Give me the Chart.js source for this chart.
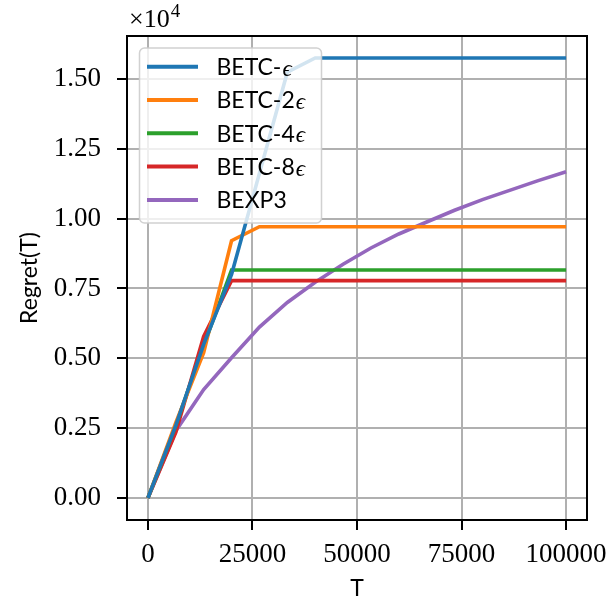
<!DOCTYPE html>
<html>
<head>
<meta charset="utf-8">
<script src="https://cdn.jsdelivr.net/npm/chart.js@4"></script>
<style>
html, body { margin: 0; padding: 0; background: #fff; }
#wrap { width: 611px; height: 603px; }
</style>
</head>
<body>
<div id="wrap"><canvas id="regret"></canvas></div>
<script>
// horizon values (T) and regret curves (raw units, axis shows x1e4)
const T = [0, 6667, 13333, 20000, 26667, 33333, 40000, 46667, 53333, 60000, 66667, 73333, 80000, 86667, 93333, 100000];
const betc1 = [0, 2600, 5500, 8000, 11620, 15240, 15750, 15750, 15750, 15750, 15750, 15750, 15750, 15750, 15750, 15750];
const betc2 = [0, 2700, 5200, 9210, 9710, 9710, 9710, 9710, 9710, 9710, 9710, 9710, 9710, 9710, 9710, 9710];
const betc4 = [0, 2600, 5450, 8160, 8160, 8160, 8160, 8160, 8160, 8160, 8160, 8160, 8160, 8160, 8160, 8160];
const betc8 = [0, 2350, 5780, 7780, 7780, 7780, 7780, 7780, 7780, 7780, 7780, 7780, 7780, 7780, 7780, 7780];
const bexp3 = [0, 2400, 3880, 5020, 6120, 7000, 7720, 8370, 8950, 9450, 9880, 10300, 10680, 11020, 11360, 11680];

const seriesNames = ['BETC-ϵ', 'BETC-2ϵ', 'BETC-4ϵ', 'BETC-8ϵ', 'BEXP3'];
const seriesColors = ['#1f77b4', '#ff7f0e', '#2ca02c', '#d62728', '#9467bd'];
const xTicks = [0, 25000, 50000, 75000, 100000];
const yTicks = [0, 2500, 5000, 7500, 10000, 12500, 15000];

const allSeries = [betc1, betc2, betc4, betc8, bexp3];

// legend inside the axes, full frame and the x1e4 offset text
const extras = {
    id: 'extras',
    afterDatasetsDraw(chart) {
        const ctx = chart.ctx;
        const a = chart.chartArea;
        ctx.save();

        const lx = a.left + 12.5, ly = a.top + 12, lw = 182, lh = 175;
        ctx.beginPath();
        ctx.roundRect(lx, ly, lw, lh, 5);
        ctx.fillStyle = 'rgba(255,255,255,0.8)';
        ctx.fill();
        ctx.strokeStyle = 'rgba(204,204,204,0.9)';
        ctx.lineWidth = 1.5;
        ctx.stroke();

        chart.data.datasets.forEach((ds, i) => {
            const y = ly + 18.7 + i * 33.3;
            ctx.beginPath();
            ctx.moveTo(lx + 7.5, y);
            ctx.lineTo(lx + 58.5, y);
            ctx.strokeStyle = ds.borderColor;
            ctx.lineWidth = 4;
            ctx.stroke();

            ctx.fillStyle = '#000';
            ctx.textBaseline = 'middle';
            ctx.textAlign = 'left';
            const parts = ds.label.split('ϵ');
            ctx.font = '23px Lato';
            ctx.fillText(parts[0], lx + 77, y + 1);
            if (parts.length > 1) {
                const w = ctx.measureText(parts[0]).width;
                ctx.font = 'italic 23px "Liberation Serif"';
                ctx.fillText('ϵ', lx + 77 + w + 1, y + 3);
            }
        });

        ctx.strokeStyle = '#000';
        ctx.lineWidth = 2;
        ctx.strokeRect(a.left, a.top, a.right - a.left, a.bottom - a.top);

        ctx.fillStyle = '#000';
        ctx.textBaseline = 'alphabetic';
        ctx.font = '26px "Liberation Serif"';
        ctx.fillText('×10', a.left + 2, 27);
        const w = ctx.measureText('×10').width;
        ctx.font = '19px "Liberation Serif"';
        ctx.fillText('4', a.left + 3 + w, 17);
        ctx.restore();
    }
};

new Chart(document.getElementById('regret').getContext('2d'), {
    type: 'line',
    data: {
        datasets: allSeries.map((s, i) => ({
            label: seriesNames[i],
            data: s.map((v, j) => ({ x: T[j], y: v })),
            borderColor: seriesColors[i],
            backgroundColor: seriesColors[i],
            borderWidth: 3.6,
            pointRadius: 0,
            tension: 0,
            fill: false
        }))
    },
    options: {
        responsive: true,
        maintainAspectRatio: false,
        animation: false,
        layout: { padding: { left: 0, right: 24, top: 36, bottom: 0 } },
        scales: {
            x: {
                type: 'linear',
                min: -5000,
                max: 105000,
                afterBuildTicks: s => { s.ticks = xTicks.map(v => ({ value: v })); },
                afterFit: s => { s.height = 83; s.paddingLeft = 0; s.paddingRight = 0; },
                border: { display: false },
                grid: { color: '#b0b0b0', lineWidth: 2, tickColor: '#000', tickWidth: 2, tickLength: 10 },
                ticks: {
                    color: '#000',
                    font: { family: 'Liberation Serif', size: 27 },
                    padding: 9,
                    maxRotation: 0,
                    autoSkip: false,
                    callback: v => String(v)
                },
                title: {
                    display: true,
                    text: 'T',
                    color: '#000',
                    font: { family: 'Lato', size: 23 },
                    padding: { top: 0, bottom: 1 }
                }
            },
            y: {
                min: -787.5,
                max: 16537.5,
                afterBuildTicks: s => { s.ticks = yTicks.map(v => ({ value: v })); },
                afterFit: s => { s.width = 127; },
                border: { display: false },
                grid: { color: '#b0b0b0', lineWidth: 2, tickColor: '#000', tickWidth: 2, tickLength: 10 },
                ticks: {
                    color: '#000',
                    font: { family: 'Liberation Serif', size: 27 },
                    padding: 16,
                    autoSkip: false,
                    callback: v => (v / 10000).toFixed(2)
                },
                title: {
                    display: true,
                    text: 'Regret(T)',
                    color: '#000',
                    font: { family: 'Lato', size: 23 },
                    padding: { top: 16, bottom: 0 }
                }
            }
        },
        plugins: {
            legend: { display: false },
            tooltip: { enabled: false }
        }
    },
    plugins: [extras]
});
</script>
</body>
</html>
